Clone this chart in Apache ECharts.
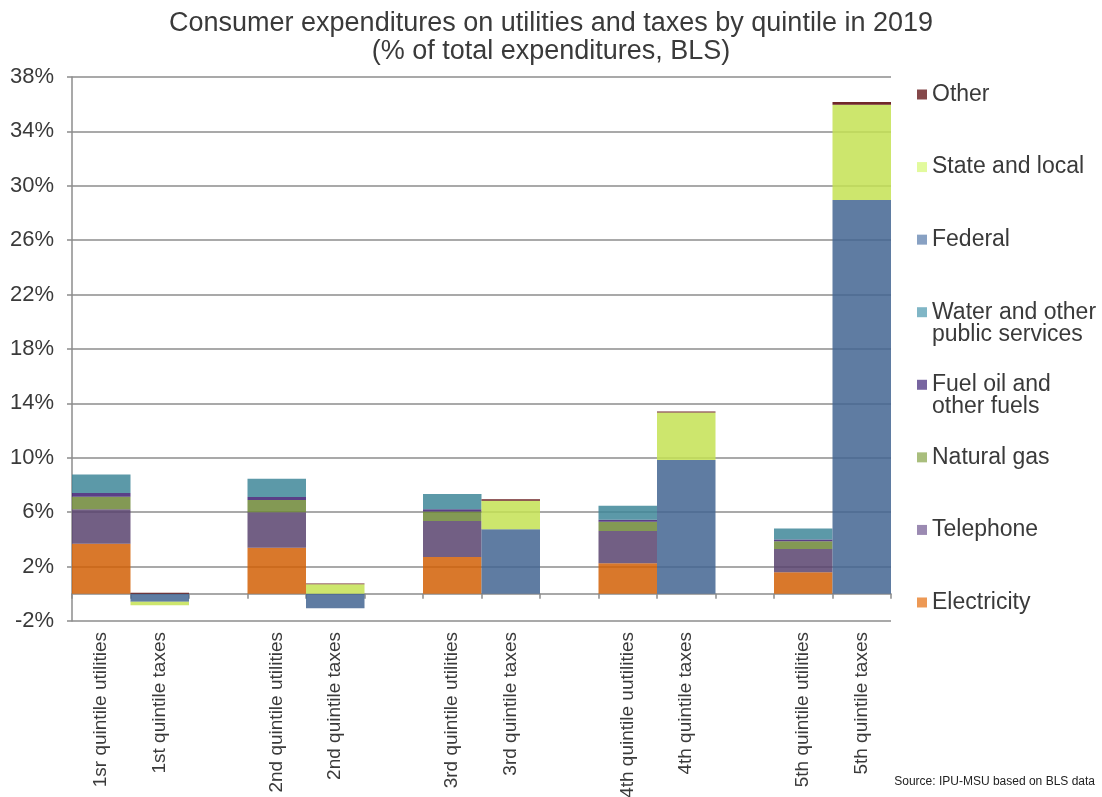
<!DOCTYPE html>
<html>
<head>
<meta charset="utf-8">
<script src="https://cdn.jsdelivr.net/npm/echarts@6/dist/echarts.min.js"></script>
<style>
  html, body { margin: 0; padding: 0; background: #ffffff; }
  #chart { width: 1102px; height: 797px; }
</style>
</head>
<body>
<div id="chart"></div>
<script>
// Category slots: one utilities bar and one taxes bar per quintile, with an empty slot between pairs
const categories = [
  '1sr quintile utilities', '1st quintile taxes', '',
  '2nd quintile utilities', '2nd quintile taxes', '',
  '3rd quintile utilities', '3rd quintile taxes', '',
  '4th quintile uutilities', '4th quintile taxes', '',
  '5th quintile utilities', '5th quintile taxes'
];
const utilitySlots = [0, 3, 6, 9, 12];
const taxSlots = [1, 4, 7, 10, 13];

// Utilities, % of total expenditures, quintiles 1..5
const electricity = [3.68, 3.39, 2.71, 2.24, 1.58];
const telephone   = [2.53, 2.60, 2.64, 2.38, 1.71];
const naturalGas  = [0.93, 0.91, 0.71, 0.68, 0.57];
const fuelOil     = [0.27, 0.22, 0.15, 0.15, 0.14];
const water       = [1.37, 1.34, 1.13, 1.03, 0.81];

// Taxes, % of total expenditures, quintiles 1..5
const federal       = [-0.58, -1.07, 4.74, 9.84, 28.96];
const stateAndLocal = [-0.27, 0.70, 2.11, 3.50, 7.00];
const otherTaxes    = [0.08, 0.05, 0.10, 0.07, 0.20];

const yTicks = { min: -2, max: 38, step: 4 };

const FONT = '"Liberation Sans", Arial, Helvetica, sans-serif';
const TEXT = '#3a3a3a';
const GRID = '#8c8c8c';

function toSlots(values, slots) {
  const out = categories.map(() => null);
  slots.forEach((s, i) => { out[s] = values[i]; });
  return out;
}

// name, values, slots, bar colour, legend swatch colour
const seriesDefs = [
  ['Electricity', electricity, utilitySlots, '#d26006', '#ea8737'],
  ['Telephone', telephone, utilitySlots, '#59436e', '#8a76a5'],
  ['Natural gas', naturalGas, utilitySlots, '#6d8736', '#9ab366'],
  ['Fuel oil and\nother fuels', fuelOil, utilitySlots, '#3d1d72', '#5f4a8f'],
  ['Water and other\npublic services', water, utilitySlots, '#3f8799', '#6aa9bc'],
  ['Federal', federal, taxSlots, '#436592', '#7390b8'],
  ['State and local', stateAndLocal, taxSlots, '#c4e254', '#ddf98c'],
  ['Other', otherTaxes, taxSlots, '#570104', '#70282a']
];

const series = seriesDefs.map(([name, values, slots, color]) => ({
  name: name,
  type: 'bar',
  stack: 'total',
  xAxisIndex: 0,
  barCategoryGap: '0%',
  data: toSlots(values, slots),
  itemStyle: { color: color, opacity: 0.85 },
  emphasis: { disabled: true }
}));

// Legend, listed top to bottom; each entry placed on its own row.
// Two-line names get an empty line above so the swatch sits beside the first line.
const legendOrder = seriesDefs.slice().reverse();
const legendRowStart = 94, legendRowStep = 72.57;
const legends = legendOrder.map(([name, , , , swatch], i) => {
  const twoLines = name.indexOf('\n') >= 0;
  const rowCenter = legendRowStart + i * legendRowStep;
  return {
    left: 917,
    top: rowCenter - (twoLines ? 33 : 11),
    padding: 0,
    itemWidth: 10,
    itemHeight: 10,
    icon: 'rect',
    selectedMode: false,
    data: [{ name: name, itemStyle: { color: swatch } }],
    formatter: twoLines ? (n) => '\n' + n : '{name}',
    textStyle: { fontFamily: FONT, fontSize: 23, lineHeight: 22, color: TEXT }
  };
});

const chart = echarts.init(document.getElementById('chart'));
chart.setOption({
  animation: false,
  backgroundColor: '#ffffff',
  title: {
    text: 'Consumer expenditures on utilities and taxes by quintile in 2019\n(% of total expenditures, BLS)',
    left: 'center',
    top: 10,
    padding: 0,
    textStyle: { fontFamily: FONT, fontSize: 27, lineHeight: 28, fontWeight: 'normal', color: TEXT }
  },
  legend: legends,
  grid: { left: 72, right: 211, top: 77, bottom: 176, containLabel: false, outerBoundsMode: 'none' },
  xAxis: [
    {
      type: 'category',
      data: categories,
      position: 'bottom',
      boundaryGap: true,
      axisLine: { show: false, onZero: false },
      axisTick: { show: false },
      axisLabel: {
        interval: 0, rotate: 90, margin: 11,
        fontFamily: FONT, fontSize: 19, color: TEXT
      }
    },
    {
      type: 'category',
      data: categories,
      position: 'bottom',
      boundaryGap: true,
      axisLine: { show: true, onZero: true, lineStyle: { color: GRID, width: 1.5 } },
      axisTick: { show: true, interval: 0, length: 5, lineStyle: { color: GRID, width: 1.5 } },
      axisLabel: { show: false }
    }
  ],
  yAxis: {
    type: 'value',
    min: yTicks.min,
    max: yTicks.max,
    interval: yTicks.step,
    axisLine: { show: true, lineStyle: { color: GRID, width: 1.5 } },
    axisTick: { show: true, length: 5, lineStyle: { color: GRID, width: 1.5 } },
    axisLabel: {
      margin: 18, fontFamily: FONT, fontSize: 22, color: TEXT,
      formatter: '{value}%'
    },
    splitLine: { show: true, lineStyle: { color: GRID, width: 1.5 } }
  },
  graphic: [{
    type: 'text',
    right: 7,
    top: 776,
    style: {
      text: 'Source: IPU-MSU based on BLS data',
      font: '12px ' + FONT,
      fill: '#222222'
    }
  }],
  series: series
});
</script>
</body>
</html>
